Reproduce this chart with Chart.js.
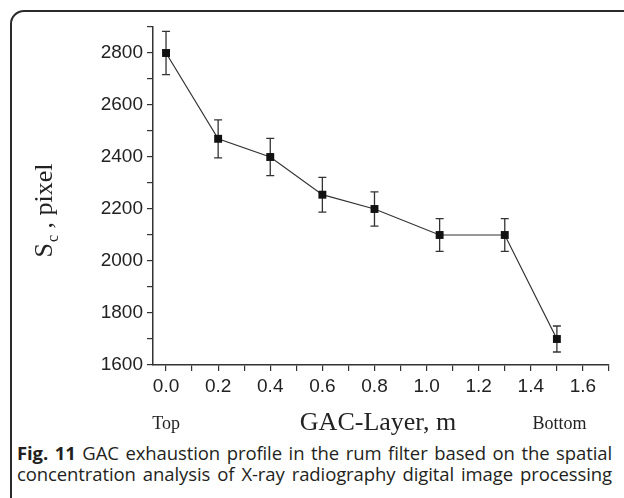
<!DOCTYPE html>
<html>
<head>
<meta charset="utf-8">
<script src="https://cdn.jsdelivr.net/npm/chart.js@4/dist/chart.umd.min.js"></script>
<style>
  body { margin: 0; width: 624px; height: 498px; overflow: hidden; background: #fff; position: relative; }
  #frame { position: absolute; left: 10px; top: 10px; width: 640px; height: 520px; border: 2px solid #2a2a2a; border-radius: 14px; }
  #c1 { position: absolute; left: 0; top: 0; }
  #caption { position: absolute; left: 17px; top: 442px; width: 595px; font-family: "Open Sans", sans-serif; font-size: 18.5px; line-height: 21px; color: #231f20; letter-spacing: -0.1px; }
  #caption div { white-space: nowrap; text-align: justify; text-align-last: justify; }
</style>
</head>
<body>
<div id="frame"></div>
<canvas id="c1" width="624" height="440"></canvas>
<div id="caption">
  <div><b>Fig. 11</b> GAC exhaustion profile in the rum filter based on the spatial</div>
  <div>concentration analysis of X-ray radiography digital image processing</div>
</div>
<script>
// GAC layer depth (m), Sc values (pixel) and error bar half-heights
const xs = [0, 0.2, 0.4, 0.6, 0.8, 1.05, 1.3, 1.5];
const sc = [2800, 2470, 2400, 2255, 2200, 2100, 2100, 1700];
const err = [83, 73, 72, 67, 66, 63, 63, 50];

const ink = '#222';
const serif = "'Liberation Serif', 'Times New Roman', serif";

let pts = []
for (let i = 0; i < xs.length; i++) {
  pts.push({x: xs[i], y: sc[i]})
}

// error bars, drawn under the markers
const errBars = {
  id: 'errBars',
  beforeDatasetsDraw(chart) {
    const ctx = chart.ctx, sx = chart.scales.x, sy = chart.scales.y;
    ctx.save();
    ctx.strokeStyle = '#333';
    ctx.lineWidth = 1.3;
    for (let i = 0; i < xs.length; i++) {
      const px = sx.getPixelForValue(xs[i]);
      const top = sy.getPixelForValue(sc[i] + err[i]);
      const bot = sy.getPixelForValue(sc[i] - err[i]);
      ctx.beginPath();
      ctx.moveTo(px, top); ctx.lineTo(px, bot);
      ctx.moveTo(px - 4, top); ctx.lineTo(px + 4, top);
      ctx.moveTo(px - 4, bot); ctx.lineTo(px + 4, bot);
      ctx.stroke();
    }
    ctx.restore();
  }
};

// axis titles and the Top / Bottom notes
const titles = {
  id: 'titles',
  afterDraw(chart) {
    const ctx = chart.ctx, sx = chart.scales.x, area = chart.chartArea;
    ctx.save();
    ctx.fillStyle = ink;
    ctx.textBaseline = 'alphabetic';
    ctx.textAlign = 'center';
    ctx.font = '26px ' + serif;
    ctx.fillText('GAC-Layer, m', (area.left + area.right) / 2 - 3, 430);
    ctx.font = '18px ' + serif;
    ctx.fillText('Top', sx.getPixelForValue(0), 429);
    ctx.fillText('Bottom', sx.getPixelForValue(1.51), 429);

    // y title: S with subscript c
    ctx.translate(52, 211);
    ctx.rotate(-Math.PI / 2);
    ctx.textAlign = 'left';
    const big = '26px ' + serif, small = '16px ' + serif;
    ctx.font = big; const wS = ctx.measureText('S').width;
    ctx.font = small; const wc = ctx.measureText('c').width;
    ctx.font = big; const wR = ctx.measureText(' , pixel').width;
    let x0 = -(wS + wc + wR) / 2;
    ctx.fillText('S', x0, 0);
    ctx.font = small;
    ctx.fillText('c', x0 + wS + 1, 6);
    ctx.font = big;
    ctx.fillText(' , pixel', x0 + wS + wc + 1, 0);
    ctx.restore();
  }
};

const data = {
  datasets: [{
    data: pts,
    borderColor: '#333',
    borderWidth: 1.2,
    backgroundColor: '#111',
    pointStyle: 'rect',
    pointRadius: 5.6,
    pointBorderWidth: 0,
    tension: 0
  }]
};

const config = {
  type: 'line',
  data: data,
  options: {
    responsive: false,
    animation: false,
    devicePixelRatio: 1,
    layout: { padding: { top: 27, right: 15, left: 0, bottom: 0 } },
    plugins: { legend: { display: false }, tooltip: { enabled: false } },
    scales: {
      x: {
        type: 'linear',
        min: -0.05,
        max: 1.7,
        afterFit: (s) => { s.height = 75 },
        border: { color: '#333', width: 1.5 },
        grid: { drawOnChartArea: false, tickLength: 6, color: '#333', lineWidth: 1.2 },
        ticks: {
          stepSize: 0.1,
          includeBounds: false,
          autoSkip: false,
          maxRotation: 0,
          padding: 4,
          color: ink,
          font: { family: "'Liberation Sans', Arial, sans-serif", size: 19 },
          callback: (v) => Math.round(v * 10) % 2 === 0 ? v.toFixed(1) : ''
        }
      },
      y: {
        min: 1600,
        max: 2900,
        afterFit: (s) => { s.width = 153 },
        border: { color: '#333', width: 1.5 },
        grid: { drawOnChartArea: false, tickLength: 6, color: '#333', lineWidth: 1.2 },
        ticks: {
          stepSize: 100,
          autoSkip: false,
          padding: 4,
          color: ink,
          font: { family: "'Liberation Sans', Arial, sans-serif", size: 19 },
          callback: (v) => v % 200 === 0 ? v : ''
        }
      }
    }
  },
  plugins: [errBars, titles]
};

const myChart = new Chart(document.getElementById('c1'), config);
</script>
</body>
</html>
